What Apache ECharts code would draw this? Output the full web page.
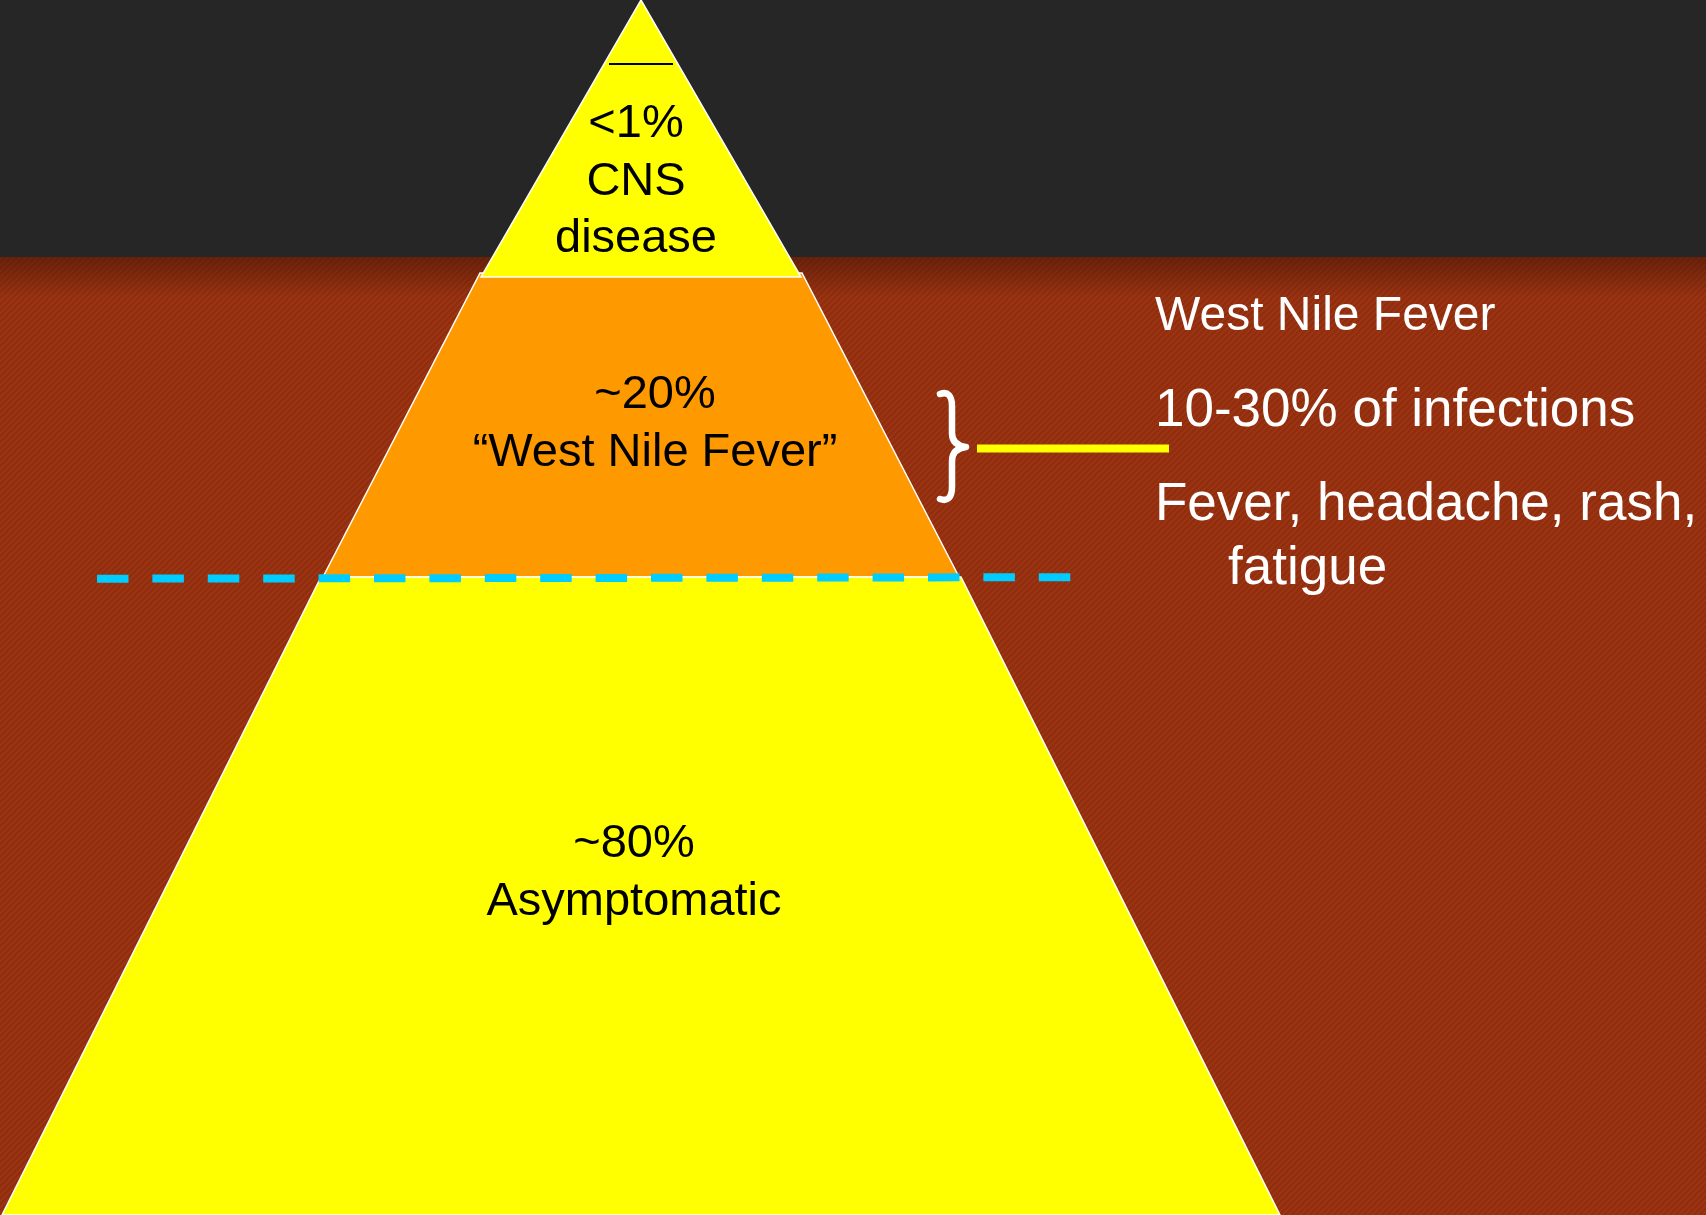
<!DOCTYPE html>
<html>
<head>
<meta charset="utf-8">
<script src="https://cdn.jsdelivr.net/npm/echarts@6/dist/echarts.min.js"></script>
<style>
  html, body { margin: 0; padding: 0; background: #262626; }
  #chart { width: 1706px; height: 1215px; }
</style>
</head>
<body>
<div id="chart"></div>
<script>
// Outcome tiers of infection, from the apex down
const tierNames = ['CNS disease', 'West Nile Fever', 'Asymptomatic'];
const tierLabels = ['<1%\nCNS\ndisease', '~20%\n\u201CWest Nile Fever\u201D', '~80%\nAsymptomatic'];
// vertical extent of each tier in diagram units (0 = apex)
const tierTop = [0, 273, 577];
const tierBottom = [277, 577, 1215];
// half width of each tier at its top and bottom edge
const tierTopHalf = [0, 161, 320];
const tierBottomHalf = [160, 318, 639];

// side notes for the fever tier
const noteTitle = 'West Nile Fever';
const noteLines = ['10-30% of infections', 'Fever, headache, rash,', 'fatigue'];

// ---- layout and styling ----
const W = 1706, H = 1215;
const layout = {
  axisX: 641,
  bandBottom: 257,
  labelX: [636, 655, 634],
  labelY: [182, 424, 873],
  tick: { x1: 609, x2: 673, y: 64 },
  threshold: { x1: 97, y1: 578.7, x2: 1071, y2: 577.2 },
  brace: { left: 940, stem: 952, tip: 966, top: 394, mid: 447, bottom: 499 },
  connector: { x1: 977, x2: 1169, y: 448.5 },
  noteX: 1155, noteIndentX: 1228,
  noteY: [317, 411.5, 505.5, 569.5]
};
const tierColors = ['#FFFF00', '#FF9900', '#FFFF00'];
const FONT = '"Liberation Sans", Arial, sans-serif';

// fine diagonal weave for the brown backdrop
function stripeTile() {
  const c = document.createElement('canvas');
  c.width = 6; c.height = 6;
  const g = c.getContext('2d');
  g.fillStyle = '#932F0F';
  g.fillRect(0, 0, 6, 6);
  for (let y = 0; y < 6; y++) {
    for (let x = 0; x < 6; x++) {
      const k = (x + y) % 6;
      if (k === 0 || k === 1) { g.fillStyle = '#9B3513'; g.fillRect(x, y, 1, 1); }
      else if (k === 3) { g.fillStyle = '#8D2D0D'; g.fillRect(x, y, 1, 1); }
    }
  }
  return c;
}
const tile = stripeTile();

const chart = echarts.init(document.getElementById('chart'), null, { renderer: 'canvas' });

function backdrop(params, api) {
  const tl = api.coord([0, 0]);
  const br = api.coord([W, H]);
  const band = api.coord([0, layout.bandBottom]);
  return {
    type: 'group',
    children: [
      { type: 'rect', shape: { x: tl[0], y: tl[1], width: br[0] - tl[0], height: band[1] - tl[1] },
        style: { fill: '#262626' } },
      { type: 'rect', shape: { x: tl[0], y: band[1], width: br[0] - tl[0], height: br[1] - band[1] },
        style: { fill: { image: tile, repeat: 'repeat' } } },
      { type: 'rect', shape: { x: tl[0], y: band[1], width: br[0] - tl[0], height: 40 },
        style: { fill: new echarts.graphic.LinearGradient(0, 0, 0, 1, [
          { offset: 0, color: 'rgba(40,10,0,0.42)' },
          { offset: 1, color: 'rgba(40,10,0,0)' }
        ]) } }
    ]
  };
}

function tier(params, api) {
  const i = params.dataIndex;
  const cx = layout.axisX;
  const pts = [
    [cx - tierTopHalf[i], tierTop[i]],
    [cx + tierTopHalf[i], tierTop[i]],
    [cx + tierBottomHalf[i], tierBottom[i]],
    [cx - tierBottomHalf[i], tierBottom[i]]
  ].map(p => api.coord(p));
  const lp = api.coord([layout.labelX[i], layout.labelY[i]]);
  return {
    type: 'group',
    children: [
      { type: 'polygon', z2: i === 0 ? 5 : 1, shape: { points: pts },
        style: { fill: tierColors[i], stroke: '#FFFFFF', lineWidth: 1.5 } },
      { type: 'text', z2: 10,
        style: { text: tierLabels[i], x: lp[0], y: lp[1], fill: '#000000',
          fontSize: 47, fontFamily: FONT, align: 'center', verticalAlign: 'middle', lineHeight: 57.5 } }
    ]
  };
}

function annotations(params, api) {
  const c = p => api.coord(p);
  const t = layout.tick, th = layout.threshold, b = layout.brace, k = layout.connector;
  const t1 = c([t.x1, t.y]), t2 = c([t.x2, t.y]);
  const d1 = c([th.x1, th.y1]), d2 = c([th.x2, th.y2]);
  const k1 = c([k.x1, k.y]), k2 = c([k.x2, k.y]);
  const P = (x, y) => c([x, y]).join(' ');
  const bracePath =
    'M ' + P(b.left, b.top) +
    ' C ' + P(b.left + 8, b.top - 3) + ', ' + P(b.stem, b.top + 2) + ', ' + P(b.stem, b.top + 12) +
    ' L ' + P(b.stem, b.mid - 14) +
    ' C ' + P(b.stem, b.mid - 5) + ', ' + P(b.tip - 8, b.mid - 1) + ', ' + P(b.tip, b.mid) +
    ' C ' + P(b.tip - 8, b.mid + 1) + ', ' + P(b.stem, b.mid + 5) + ', ' + P(b.stem, b.mid + 14) +
    ' L ' + P(b.stem, b.bottom - 12) +
    ' C ' + P(b.stem, b.bottom - 2) + ', ' + P(b.left + 8, b.bottom + 3) + ', ' + P(b.left, b.bottom);
  const children = [
    { type: 'line', shape: { x1: t1[0], y1: t1[1], x2: t2[0], y2: t2[1] },
      style: { stroke: '#000000', lineWidth: 2 } },
    { type: 'line', shape: { x1: d1[0], y1: d1[1], x2: d2[0], y2: d2[1] },
      style: { stroke: '#00CCFF', lineWidth: 8, lineDash: [31.5, 23.9], lineCap: 'butt' } },
    { type: 'path', shape: { pathData: bracePath },
      style: { fill: null, stroke: '#FFFFFF', lineWidth: 6.5, lineCap: 'round', lineJoin: 'round' } },
    { type: 'line', shape: { x1: k1[0], y1: k1[1], x2: k2[0], y2: k2[1] },
      style: { stroke: '#FFFF00', lineWidth: 8 } }
  ];
  const titlePos = c([layout.noteX, layout.noteY[0]]);
  children.push({ type: 'text', style: { text: noteTitle, x: titlePos[0], y: titlePos[1],
    fill: '#FFFFFF', fontSize: 48, fontFamily: FONT, align: 'left', verticalAlign: 'middle' } });
  noteLines.forEach((line, j) => {
    const x = j === noteLines.length - 1 ? layout.noteIndentX : layout.noteX;
    const p = c([x, layout.noteY[j + 1]]);
    children.push({ type: 'text', style: { text: line, x: p[0], y: p[1],
      fill: '#FFFFFF', fontSize: 53, fontFamily: FONT, align: 'left', verticalAlign: 'middle' } });
  });
  return { type: 'group', children };
}

chart.setOption({
  animation: false,
  backgroundColor: '#262626',
  grid: { left: 0, right: 0, top: 0, bottom: 0 },
  xAxis: { type: 'value', min: 0, max: W, show: false },
  yAxis: { type: 'value', min: 0, max: H, inverse: true, show: false },
  series: [
    { type: 'custom', name: 'backdrop', z: 0, silent: true, data: [[0]], renderItem: backdrop },
    { type: 'custom', name: 'tiers', z: 2, silent: true,
      data: tierNames.map((n, i) => ({ name: n, value: [i] })), renderItem: tier },
    { type: 'custom', name: 'notes', z: 3, silent: true, data: [[0]], renderItem: annotations }
  ]
});
</script>
</body>
</html>
